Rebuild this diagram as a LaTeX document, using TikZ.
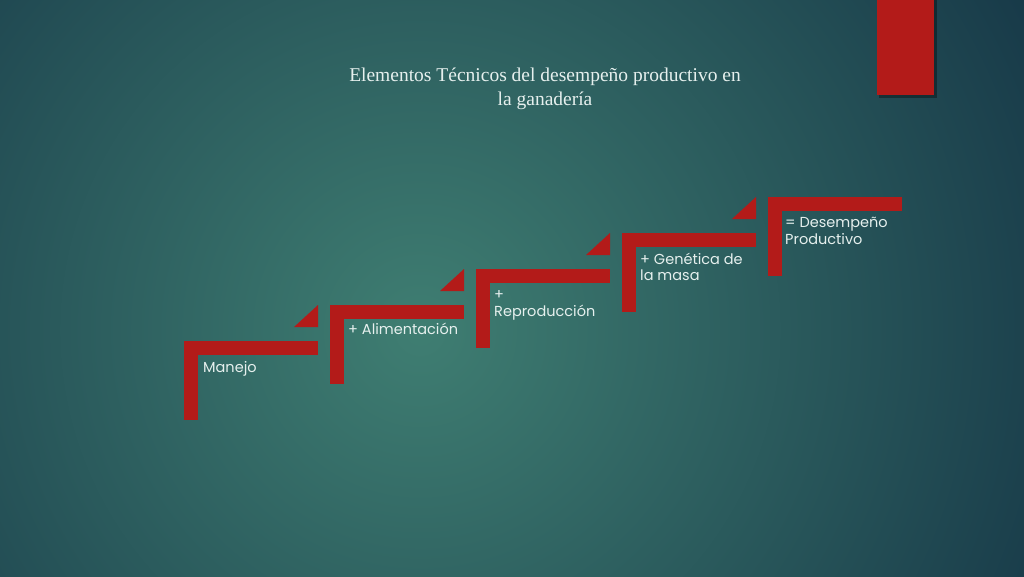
\documentclass[tikz,border=0pt]{standalone}
\usepackage{fontspec}
\usetikzlibrary{calc}
\setmainfont{Liberation Serif}
\newfontfamily\gothic{Poppins}
\definecolor{bgin}{HTML}{3F7E72}
\definecolor{bgout}{HTML}{163747}
\definecolor{stepred}{HTML}{B31B19}
\definecolor{txt}{HTML}{E6F0EE}
\begin{document}
\begin{tikzpicture}[x=1pt,y=-1pt,
  redfill/.style={fill=stepred,draw=none},
  label/.style={font=\gothic\fontsize{14.5}{16.5}\selectfont,text=txt,anchor=base west,inner sep=0pt,align=left},
  titlestyle/.style={font=\fontsize{19.5}{24}\selectfont,text=txt,align=center,inner sep=0pt}]
\useasboundingbox (0,0) rectangle (1024,576);
\begin{scope}
\clip (0,0) rectangle (1024,576);
\fill[bgout] (0,0) rectangle (1024,576);
\shade[inner color=bgin,outer color=bgout] (420,330) circle[radius=720];
\end{scope}
% top-right tab
\fill[black,opacity=0.35] (879,0) rectangle (937,98);
\fill[stepred] (877,0) rectangle (934,95);
% title
\node[titlestyle] (title) at (545,89) {Elementos Técnicos del desempeño productivo en\\la ganadería};
% steps
\foreach \i/\x/\y in {1/184/341,2/330/305,3/476/269,4/622/233,5/768/197}{
  \coordinate (s\i) at (\x,\y);
  \fill[redfill] (s\i) rectangle ++(134,13.5);
  \fill[redfill] (s\i) rectangle ++(14,79);
}
\foreach \i in {1,2,3,4}{
  \fill[redfill] ($(s\i)+(110,-14)$) -- ($(s\i)+(134,-14)$) -- ($(s\i)+(134,-36)$) -- cycle;
}
\node[label] (t1) at ($(s1)+(19,31)$) {Manejo};
\node[label] (t2) at ($(s2)+(18,29.5)$) {+ Alimentación};
\node[label] (t3) at ($(s3)+(18,47)$) {+\\Reproducción};
\node[label] (t4) at ($(s4)+(18,47.5)$) {+ Genética de\\la masa};
\node[label] (t5) at ($(s5)+(17,47)$) {= Desempeño\\Productivo};
\end{tikzpicture}
\end{document}
